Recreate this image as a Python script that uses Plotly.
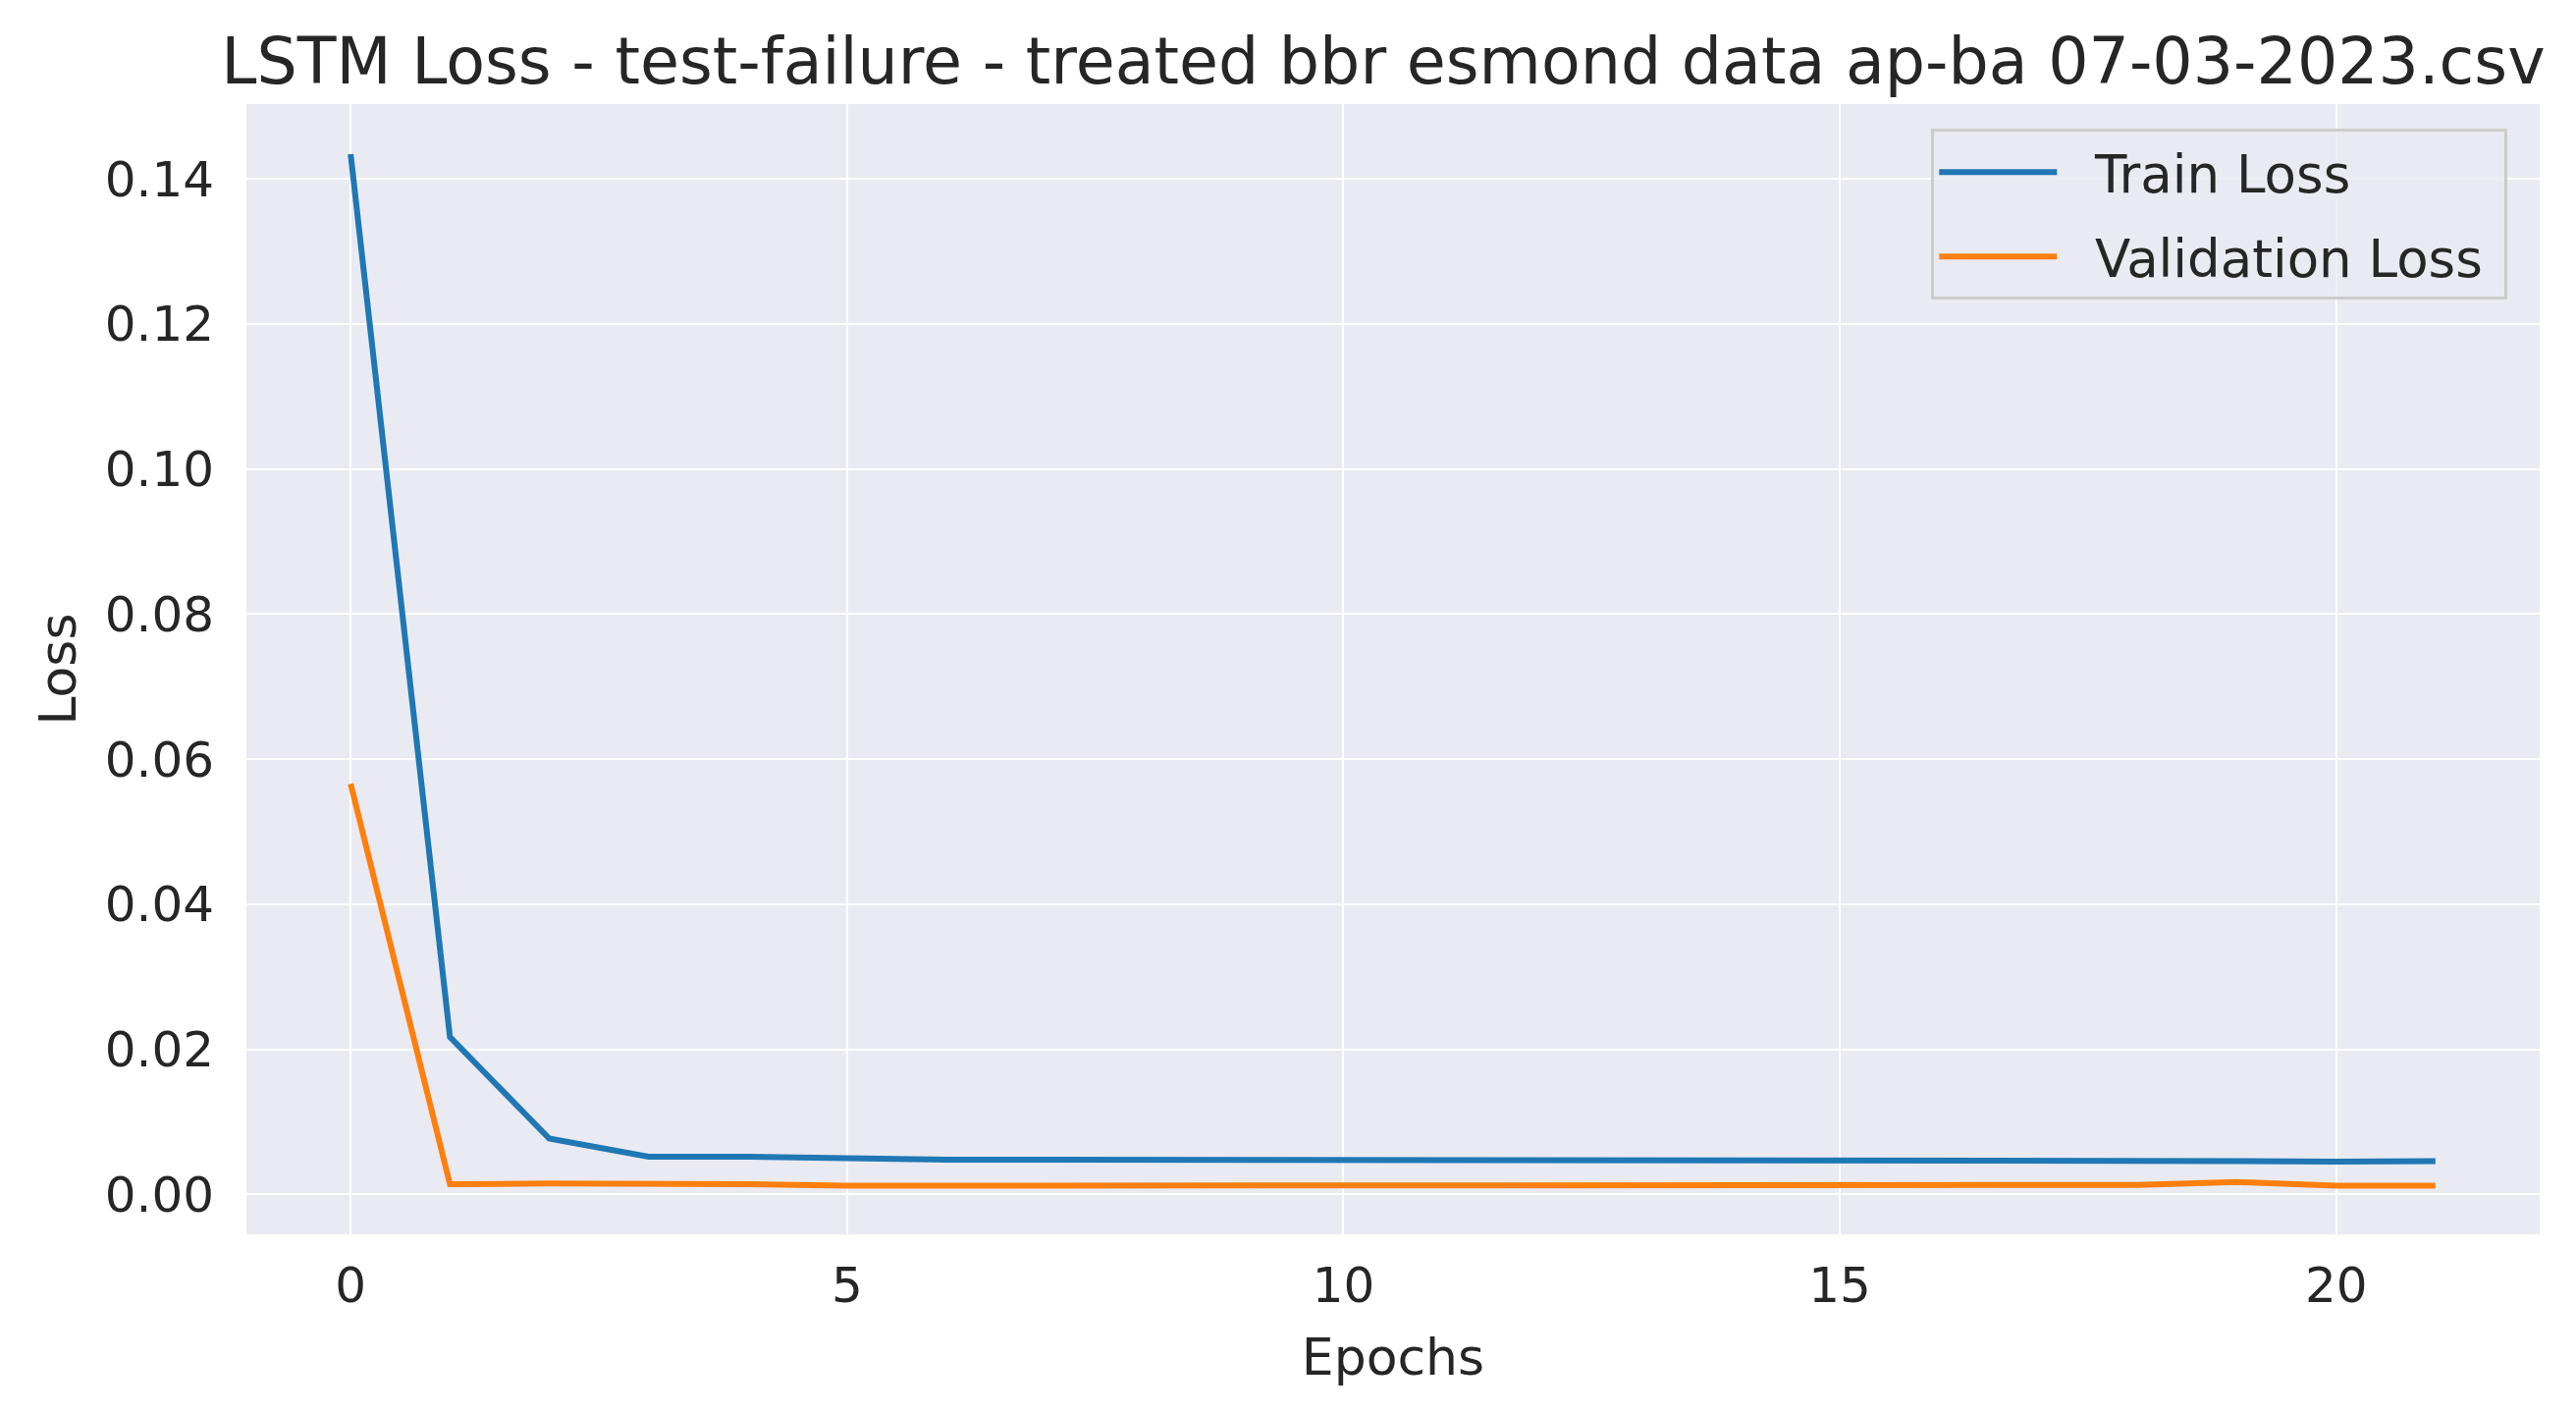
import plotly.graph_objects as go

epochs = list(range(22))
train_loss = [0.1434, 0.0217, 0.0077, 0.0052, 0.0052, 0.0049, 0.0048, 0.0048, 0.0048, 0.0048, 0.0047,
              0.0047, 0.0047, 0.0048, 0.0048, 0.0046, 0.0046, 0.0047, 0.0046, 0.0046, 0.0045, 0.0046]
val_loss = [0.0566, 0.0014, 0.0015, 0.0015, 0.0014, 0.0012, 0.0012, 0.0012, 0.0013, 0.0012, 0.0013,
            0.0012, 0.0012, 0.0012, 0.0012, 0.0013, 0.0012, 0.0013, 0.0013, 0.0017, 0.0012, 0.0012]

x_ticks = [0, 5, 10, 15, 20]
y_ticks = [0.00, 0.02, 0.04, 0.06, 0.08, 0.10, 0.12, 0.14]

title = "LSTM Loss - test-failure - treated bbr esmond data ap-ba 07-03-2023.csv"
text_color = "#262626"
pad = "\u00a0\u00a0"  # gap between legend line and label


def plot_loss(epochs, train_loss, val_loss, title):
    fig = go.Figure()
    fig.add_trace(go.Scatter(x=epochs, y=train_loss, mode='lines', name=pad + 'Train Loss',
                             legendgroup='train',
                             line=dict(color='#1f77b4', width=6)))
    fig.add_trace(go.Scatter(x=epochs, y=val_loss, mode='lines', name=pad + 'Validation Loss\u00a0',
                             legendgroup='val',
                             line=dict(color='#ff7f0e', width=6)))

    fig.update_layout(
        width=2624,
        height=1439,
        margin=dict(l=251, r=37, t=106, b=182),
        paper_bgcolor='white',
        plot_bgcolor='#eaeaf2',
        font=dict(family='DejaVu Sans', size=52, color=text_color),
        title=dict(text=title, x=0.4957, xref='paper', y=1 - 62 / 1439, yref='container',
                   yanchor='middle', font=dict(size=65, color=text_color)),
        xaxis=dict(
            title=dict(text="Epochs", standoff=26, font=dict(size=52)),
            range=[-1.05, 22.05],
            tickvals=x_ticks,
            ticktext=[str(t) for t in x_ticks],
            tickfont=dict(size=50),
            showgrid=True,
            gridcolor='white',
            gridwidth=2,
            zeroline=False,
            showline=False,
            ticks='',
            ticklabelstandoff=18
        ),
        yaxis=dict(
            title=dict(text="Loss", standoff=12, font=dict(size=52)),
            range=[-0.0055, 0.1503],
            tickvals=y_ticks,
            ticktext=[f"{t:.2f}" for t in y_ticks],
            tickfont=dict(size=50),
            showgrid=True,
            gridcolor='white',
            gridwidth=2,
            zeroline=False,
            showline=False,
            ticks='',
            ticklabelstandoff=32
        ),
        legend=dict(
            x=0.986,
            y=0.978,
            xanchor='right',
            yanchor='top',
            bgcolor='rgba(234,234,242,0.8)',
            bordercolor='#cccccc',
            borderwidth=3,
            itemwidth=120,
            tracegroupgap=14,
            font=dict(size=53, color=text_color)
        )
    )
    return fig


def main():
    fig = plot_loss(epochs, train_loss, val_loss, title)
    fig.write_html("out.html", config={'displayModeBar': False},
                   post_script="document.body.style.margin='0';")


if __name__ == '__main__':
    main()
